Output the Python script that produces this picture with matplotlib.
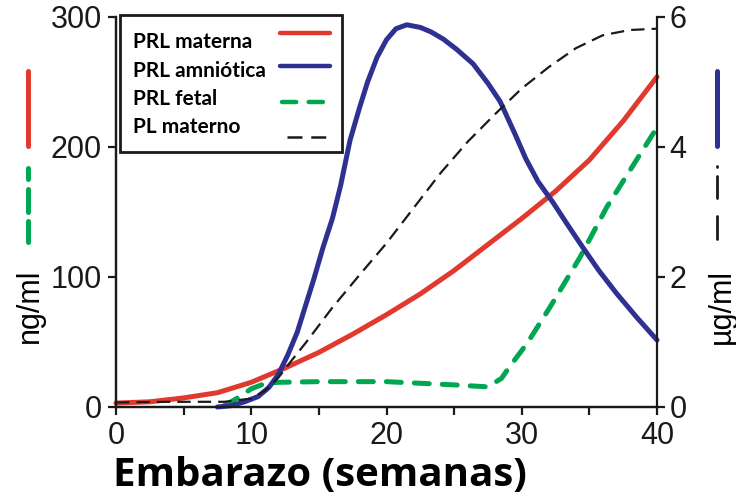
import matplotlib
matplotlib.use("Agg")
import matplotlib.pyplot as plt
from matplotlib.lines import Line2D
from matplotlib.patches import Rectangle
from matplotlib.ticker import MultipleLocator

# semanas de embarazo / concentraciones
sem_materna = [0, 2.5, 5, 7.5, 10, 12.5, 15, 17.5, 20, 22.5, 25, 27.5, 30, 32.5, 35, 37.5, 40]
prl_materna = [3, 4, 7, 11, 19, 30, 42, 56, 71, 87, 105, 125, 145, 166, 190, 220, 254]  # ng/ml

sem_fetal = [8, 9, 10, 11, 12, 15, 20, 23, 25, 27.5, 28.5, 29.1, 30.4, 32.1, 34.3, 36.3, 38, 40]
prl_fetal = [1, 7, 14, 18, 19, 19.5, 19.5, 18, 17, 15.5, 22, 31, 49, 77, 115, 154, 182, 215]  # ng/ml

sem_amnio = [7.5, 8.5, 9.5, 10.5, 11.3, 12, 12.7, 13.4, 14, 14.6, 15.3, 16, 16.6, 17.3, 18,
             18.6, 19.3, 20, 20.7, 21.5, 22.5, 23.3, 24.2, 25.2, 26.4, 27.5, 28.4, 29.5,
             30.3, 31.2, 32.3, 33.4, 34.5, 35.7, 37, 38.5, 40]
prl_amnio = [0.0, 0.02, 0.08, 0.16, 0.3, 0.5, 0.8, 1.15, 1.55, 1.95, 2.45, 2.9, 3.4, 4.1, 4.6,
             5.0, 5.38, 5.65, 5.82, 5.88, 5.84, 5.77, 5.66, 5.5, 5.28, 4.98, 4.7, 4.2,
             3.82, 3.47, 3.15, 2.8, 2.46, 2.1, 1.75, 1.38, 1.03]  # ug/ml

sem_pl = [0, 4, 8, 10, 11, 12, 13, 14, 16, 18, 20, 22, 24, 26, 28, 30, 32, 34, 36, 38, 40]
pl_materno = [0.07, 0.08, 0.08, 0.13, 0.25, 0.45, 0.72, 0.98, 1.53, 2.03, 2.52, 3.06, 3.6,
              4.08, 4.5, 4.9, 5.23, 5.52, 5.72, 5.8, 5.82]  # ug/ml

ROJO = "#e03a2f"
AZUL = "#2e3192"
VERDE = "#00a650"
NEGRO = "#1a1a1a"

W, H = 736, 496
plt.rcParams["font.family"] = ["Liberation Sans", "DejaVu Sans"]

fig = plt.figure(figsize=(W / 100, H / 100), dpi=100)
ax = fig.add_axes([116 / W, 1 - 407 / H, 541 / W, 390 / H])
ax2 = ax.twinx()

lw = 3.6
ax.plot(sem_materna, prl_materna, color=ROJO, lw=lw, solid_capstyle="round",
        solid_joinstyle="round", clip_on=False)
ax.plot(sem_fetal, prl_fetal, color=VERDE, lw=lw, dashes=(3.0, 2.6),
        dash_capstyle="round", clip_on=False)
ax2.plot(sem_amnio, prl_amnio, color=AZUL, lw=lw, solid_capstyle="round",
         solid_joinstyle="round", clip_on=False)
ax2.plot(sem_pl, pl_materno, color=NEGRO, lw=1.6, dashes=(6, 3.2), clip_on=False)

ax.set_xlim(0, 40)
ax.set_ylim(0, 300)
ax2.set_ylim(0, 6)

for a in (ax, ax2):
    a.spines["top"].set_visible(False)
    for s in a.spines.values():
        s.set_linewidth(1.6)
        s.set_color(NEGRO)
ax.spines["right"].set_visible(False)

ax.xaxis.set_major_locator(MultipleLocator(10))
ax.xaxis.set_minor_locator(MultipleLocator(5))
ax.yaxis.set_major_locator(MultipleLocator(100))
ax2.yaxis.set_major_locator(MultipleLocator(2))
ax.tick_params(axis="both", which="both", direction="out", length=6, width=1.6,
               labelsize=22, colors=NEGRO, pad=4)
ax2.tick_params(axis="y", direction="out", length=6, width=1.6, labelsize=22,
                colors=NEGRO, pad=3)

def px(x, y):
    return x / W, 1 - y / H

fig.text(*px(320, 486), "Embarazo (semanas)", family=["Open Sans", "DejaVu Sans"],
         fontweight="bold", fontsize=29, ha="center", va="baseline")

# leyenda: texto a la izquierda, muestra de linea a la derecha
x0, y0 = px(120, 152)
fig.add_artist(Rectangle((x0, y0), 222 / W, 137 / H, transform=fig.transFigure,
                         facecolor="white", edgecolor=NEGRO, lw=2, zorder=5))

def muestra(xa, xb, y, color, width, **kw):
    (ua, v), (ub, _) = px(xa, y), px(xb, y)
    fig.add_artist(Line2D([ua, ub], [v, v], transform=fig.transFigure, color=color,
                          lw=width, zorder=6, **kw))

etiquetas = ["PRL materna", "PRL amniótica", "PRL fetal", "PL materno"]
base_texto = [48, 77, 105, 133]
for txt, yb in zip(etiquetas, base_texto):
    fig.text(*px(133, yb), txt, family=["Lato", "DejaVu Sans"], fontweight="bold",
             fontsize=15, ha="left", va="baseline", zorder=6)
muestra(280, 330, 33, ROJO, 3.2, solid_capstyle="round")
muestra(280, 330, 66, AZUL, 3.2, solid_capstyle="round")
muestra(282, 330, 102, VERDE, 3.2, dashes=(3.2, 2.8), dash_capstyle="round")
muestra(287, 332, 137, NEGRO, 1.8, dashes=(6, 3.5))

# etiquetas de unidades con su clave de color
fig.text(*px(30, 306), "ng/ml", rotation=90, ha="center", va="center", fontsize=22)
fig.text(*px(722, 306), "µg/ml", rotation=90, ha="center", va="center", fontsize=22)

def clave(x, ya, yb, color, width, **kw):
    (u, va), (_, vb) = px(x, ya), px(x, yb)
    fig.add_artist(Line2D([u, u], [va, vb], transform=fig.transFigure, color=color,
                          lw=width, solid_capstyle="round", **kw))

clave(28, 71, 146, ROJO, 3.6)
for ya, yb in [(168, 179), (189, 212), (221, 242)]:
    clave(28, ya, yb, VERDE, 3.6)
clave(717, 71, 146, AZUL, 3.6)
for ya, yb in [(166, 167), (176, 198), (216, 239)]:
    clave(717, ya, yb, NEGRO, 2.0)

fig.savefig("out.png", dpi=100)
